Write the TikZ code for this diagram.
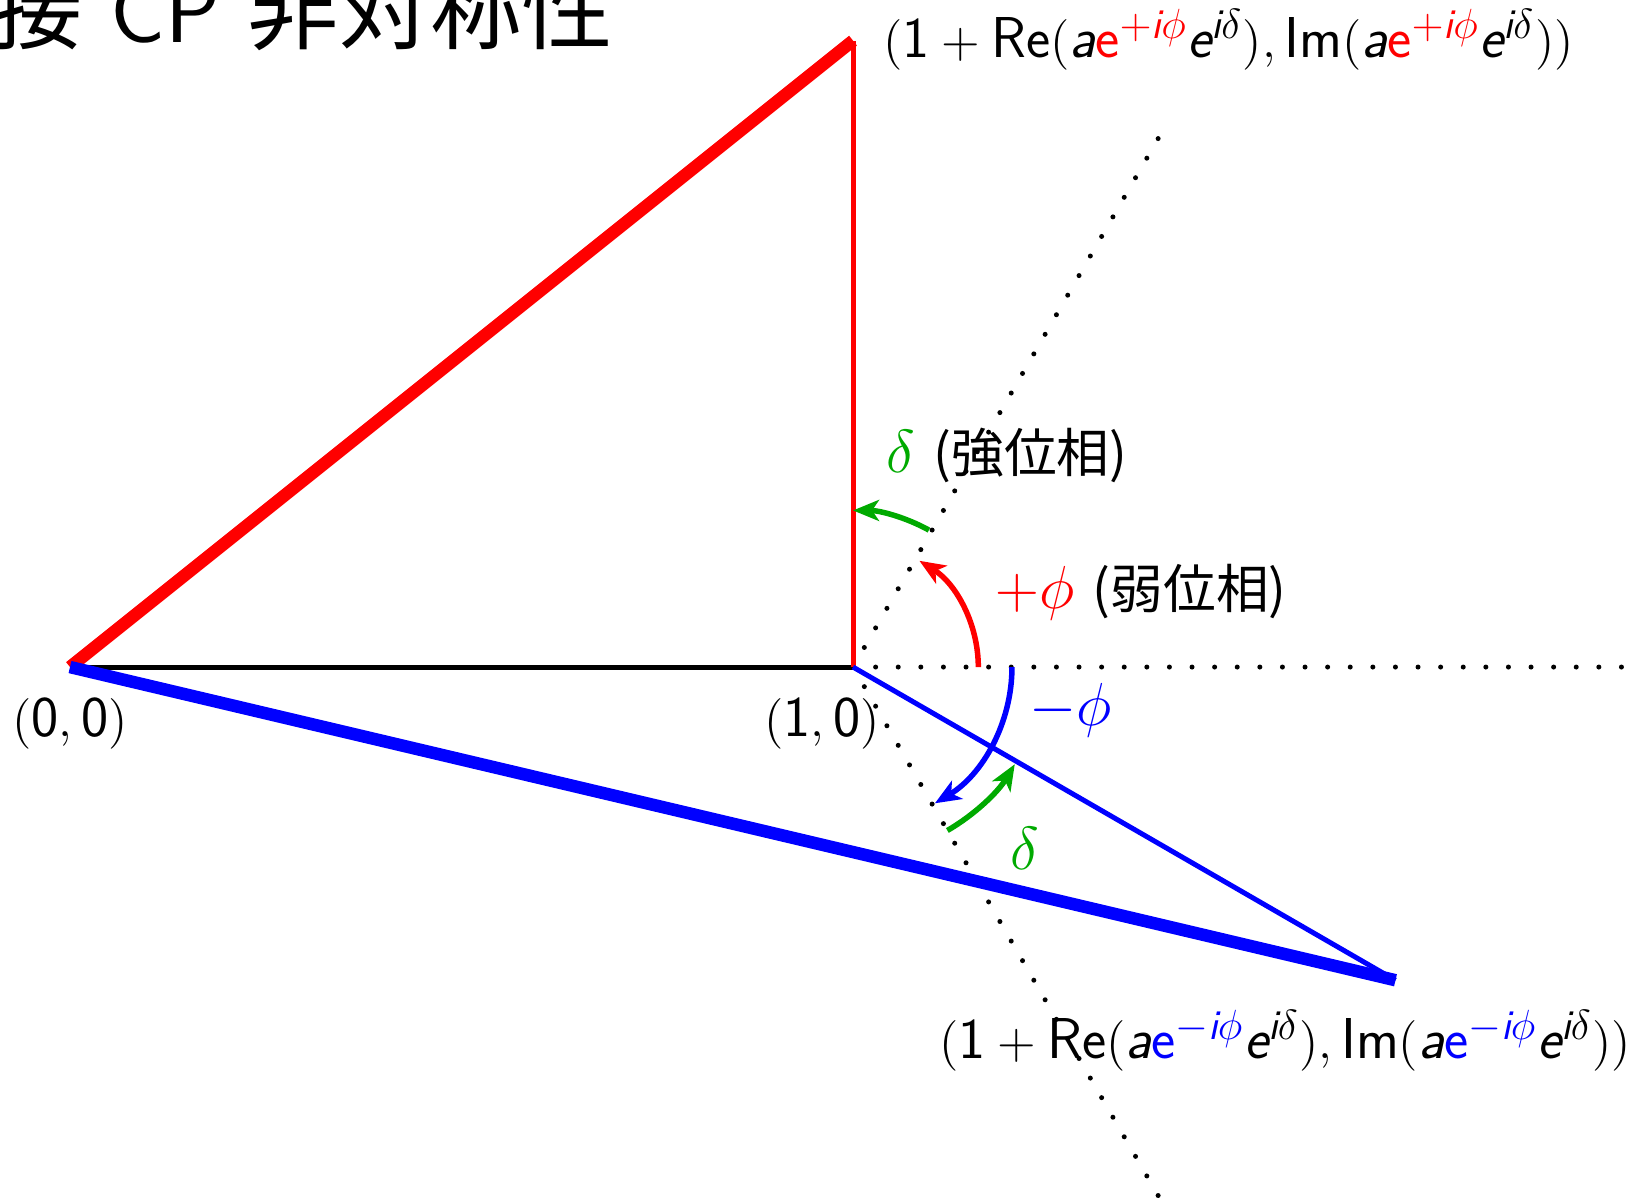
\documentclass[tikz,border=0pt]{standalone}
\usepackage{amsmath}
\usepackage{fontspec}
\newfontfamily\cjk{Noto Sans CJK JP}
\usetikzlibrary{arrows.meta,calc}
\DeclareMathSizes{16.4}{14.4}{12}{8}
\definecolor{mygreen}{RGB}{0,170,0}
\newcommand{\sv}[1]{\textsf{\itshape #1}}
\newcommand{\su}[1]{\textsf{#1}}
\begin{document}
\begin{tikzpicture}[x=7.83cm,y=7.83cm,
  thickline/.style={line width=0.125cm},
  thinline/.style={line width=0.05cm},
  dotline/.style={line width=0.05cm,line cap=round,dash pattern=on 0pt off 0.226cm},
  arcarrow/.style={line width=0.055cm,-{Stealth[length=0.26cm,width=0.21cm,inset=0.07cm]}},
  lbl/.style={inner sep=0pt},
  coordlbl/.style={lbl,font=\fontsize{16.4}{18}\selectfont},
  greeklbl/.style={lbl,font=\fontsize{17.28}{19}\selectfont}]
\useasboundingbox (-0.0894,-0.6769) rectangle (2.0038,0.8519);
\coordinate (O) at (0,0);
\coordinate (A) at (1,0);
\coordinate (R) at (1,0.8);
\coordinate (B) at (1.6928,-0.4);
\coordinate (U) at (1.39,0.6755);
\coordinate (D) at (1.39,-0.6755);
\coordinate (E) at (2,0);
% dotted guide lines
\draw[dotline] (A) -- (E);
\draw[dotline] (A) -- (U);
\draw[dotline] (A) -- (D);
% triangle sides
\draw[thinline,black] (O) -- (A);
\draw[thickline,red] (O) -- (R);
\draw[thinline,red] (A) -- (R);
\draw[thickline,blue] (O) -- (B);
\draw[thinline,blue] (A) -- (B);
% angle arcs
\draw[arcarrow,red] ([shift={(0:0.16)}]A) arc[start angle=0,end angle=58,radius=0.16];
\draw[arcarrow,mygreen] ([shift={(61:0.2)}]A) arc[start angle=61,end angle=90,radius=0.2];
\draw[arcarrow,blue] ([shift={(0:0.203)}]A) arc[start angle=0,end angle=-59,radius=0.203];
\draw[arcarrow,mygreen] ([shift={(-60:0.241)}]A) arc[start angle=-60,end angle=-31,radius=0.241];
% labels
\node[lbl,anchor=base east,font=\fontsize{26}{30}\selectfont] (title) at (0.6948,0.797)
  {{\cjk 直接} \textsf{CP} {\cjk 非対称性}};
\node[coordlbl,anchor=base] (lO) at (0,-0.0881) {$(\su{0},\su{0})$};
\node[coordlbl,anchor=base] (lA) at (0.9604,-0.0881) {$(\su{1},\su{0})$};
\node[coordlbl,anchor=base west] (lR) at (1.0383,0.779)
  {$(\su{1}+\su{Re}(\sv{a}\textcolor{red}{\su{e}^{+\sv{i}\phi}}\sv{e}^{\sv{i}\delta}),\su{Im}(\sv{a}\textcolor{red}{\su{e}^{+\sv{i}\phi}}\sv{e}^{\sv{i}\delta}))$};
\node[coordlbl,anchor=base west] (lB) at (1.1098,-0.4994)
  {$(\su{1}+\su{Re}(\sv{a}\textcolor{blue}{\su{e}^{-\sv{i}\phi}}\sv{e}^{\sv{i}\delta}),\su{Im}(\sv{a}\textcolor{blue}{\su{e}^{-\sv{i}\phi}}\sv{e}^{\sv{i}\delta}))$};
\node[greeklbl,anchor=base west] (ld1) at (1.0421,0.249)
  {\textcolor{mygreen}{$\delta$} {\fontsize{15}{17}\selectfont\cjk (強位相)}};
\node[greeklbl,anchor=base west] (lp) at (1.1813,0.0753)
  {\textcolor{red}{$+\phi$} {\fontsize{15}{17}\selectfont\cjk (弱位相)}};
\node[greeklbl,anchor=base west,text=blue] (lm) at (1.2248,-0.0741) {$-\phi$};
\node[greeklbl,anchor=base,text=mygreen] (ld2) at (1.2197,-0.258) {$\delta$};
\end{tikzpicture}
\end{document}
